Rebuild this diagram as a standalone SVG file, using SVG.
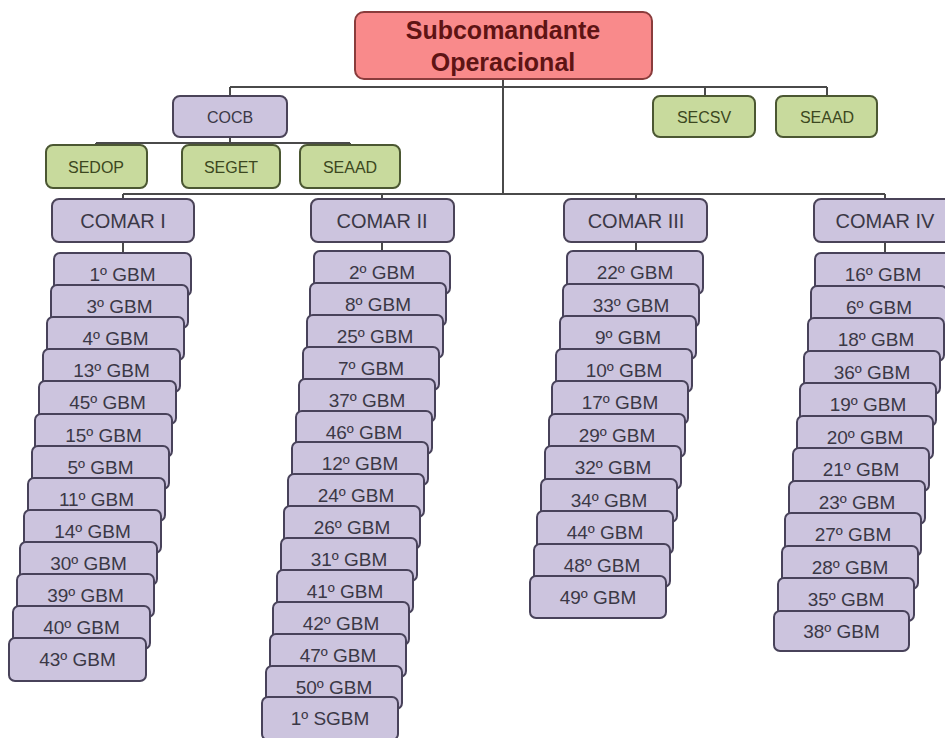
<svg xmlns="http://www.w3.org/2000/svg" width="945" height="738" viewBox="0 0 945 738">
  <style>
    .bg { fill: #ffffff; }
    .wire { fill: none; stroke: #4a4a4a; stroke-width: 2; }
    .top rect { fill: #f98a8b; stroke: #8a3c3c; stroke-width: 2; }
    .top text { font-family: "Liberation Sans", Arial, sans-serif; font-weight: bold; font-size: 25px; fill: #5e1414; text-anchor: middle; }
    .sec rect { fill: #c8da9d; stroke: #4b5732; stroke-width: 2; }
    .sec text { font-family: "Liberation Sans", Arial, sans-serif; font-size: 16px; fill: #3c4720; text-anchor: middle; }
    .cmd rect { fill: #ccc4de; stroke: #4a4358; stroke-width: 2; }
    .cmd text { font-family: "Liberation Sans", Arial, sans-serif; font-size: 16px; fill: #3b3846; text-anchor: middle; }
    .comar text { font-size: 20px; }
    .gbm rect { fill: #ccc4de; stroke: #48425a; stroke-width: 2; }
    .gbm text { font-family: "Liberation Sans", Arial, sans-serif; font-size: 19px; fill: #3b3846; text-anchor: middle; }
  </style>

  <rect class="bg" x="0" y="0" width="945" height="738"/>

  <!-- connectors -->
  <g id="connectors" class="wire">
    <path d="M503 80 V194"/>
    <path d="M230 87 H827"/>
    <path d="M230 87 V96 M705 87 V96 M827 87 V96"/>
    <path d="M230 137 V143 M96 143 H350 M96 143 V145 M231 143 V145 M350 143 V145"/>
    <path d="M123 194 H885"/>
    <path d="M123 194 V199 M382 194 V199 M636 194 V199 M885 194 V199"/>
    <path d="M123 242 V253 M382 242 V251 M636 242 V251 M885 242 V253"/>
  </g>

  <!-- top command -->
  <g id="subcomandante" class="top">
    <rect x="355" y="12" width="297" height="67" rx="9"/>
    <text x="503" y="39">Subcomandante</text>
    <text x="503" y="71">Operacional</text>
  </g>

  <!-- staff sections -->
  <g id="cocb" class="cmd">
    <rect x="173" y="96" width="114" height="41" rx="7"/>
    <text x="230" y="123">COCB</text>
  </g>
  <g id="secsv" class="sec">
    <rect x="653" y="96" width="102" height="41" rx="7"/>
    <text x="704" y="123">SECSV</text>
  </g>
  <g id="seaad-top" class="sec">
    <rect x="776" y="96" width="101" height="41" rx="7"/>
    <text x="827" y="123">SEAAD</text>
  </g>
  <g id="sedop" class="sec">
    <rect x="46" y="145" width="101" height="43" rx="7"/>
    <text x="96" y="173">SEDOP</text>
  </g>
  <g id="seget" class="sec">
    <rect x="182" y="145" width="98" height="43" rx="7"/>
    <text x="231" y="173">SEGET</text>
  </g>
  <g id="seaad-cocb" class="sec">
    <rect x="300" y="145" width="100" height="43" rx="7"/>
    <text x="350" y="173">SEAAD</text>
  </g>

  <!-- regional commands -->
  <g id="comar-1" class="cmd comar">
    <rect x="52" y="199" width="142" height="43" rx="7"/>
    <text x="123" y="228">COMAR I</text>
  </g>
  <g id="comar-2" class="cmd comar">
    <rect x="311" y="199" width="143" height="43" rx="7"/>
    <text x="382" y="228">COMAR II</text>
  </g>
  <g id="comar-3" class="cmd comar">
    <rect x="564" y="199" width="143" height="43" rx="7"/>
    <text x="636" y="228">COMAR III</text>
  </g>
  <g id="comar-4" class="cmd comar">
    <rect x="814" y="199" width="143" height="43" rx="7"/>
    <text x="885" y="228">COMAR IV</text>
  </g>

  <!-- COMAR I battalions -->
  <g id="comar-1-units" class="gbm">
    <g id="gbm-1"><rect x="54" y="253" width="137" height="43" rx="6"/><text x="122.5" y="281">1º GBM</text></g>
    <g id="gbm-3"><rect x="51" y="285" width="137" height="43" rx="6"/><text x="119.5" y="313">3º GBM</text></g>
    <g id="gbm-4"><rect x="47" y="317" width="137" height="43" rx="6"/><text x="115.5" y="345">4º GBM</text></g>
    <g id="gbm-13"><rect x="43" y="349" width="137" height="43" rx="6"/><text x="111.5" y="377">13º GBM</text></g>
    <g id="gbm-45"><rect x="39" y="381" width="137" height="43" rx="6"/><text x="107.5" y="409">45º GBM</text></g>
    <g id="gbm-15"><rect x="35" y="414" width="137" height="43" rx="6"/><text x="103.5" y="442">15º GBM</text></g>
    <g id="gbm-5"><rect x="32" y="446" width="137" height="43" rx="6"/><text x="100.5" y="474">5º GBM</text></g>
    <g id="gbm-11"><rect x="28" y="478" width="137" height="43" rx="6"/><text x="96.5" y="506">11º GBM</text></g>
    <g id="gbm-14"><rect x="24" y="510" width="137" height="43" rx="6"/><text x="92.5" y="538">14º GBM</text></g>
    <g id="gbm-30"><rect x="20" y="542" width="137" height="43" rx="6"/><text x="88.5" y="570">30º GBM</text></g>
    <g id="gbm-39"><rect x="17" y="574" width="137" height="43" rx="6"/><text x="85.5" y="602">39º GBM</text></g>
    <g id="gbm-40"><rect x="13" y="606" width="137" height="43" rx="6"/><text x="81.5" y="634">40º GBM</text></g>
    <g id="gbm-43"><rect x="9" y="638" width="137" height="43" rx="6"/><text x="77.5" y="666">43º GBM</text></g>
  </g>

  <!-- COMAR II battalions -->
  <g id="comar-2-units" class="gbm">
    <g id="gbm-2"><rect x="314" y="251" width="136" height="43" rx="6"/><text x="382" y="279">2º GBM</text></g>
    <g id="gbm-8"><rect x="310" y="283" width="136" height="43" rx="6"/><text x="378" y="311">8º GBM</text></g>
    <g id="gbm-25"><rect x="307" y="315" width="136" height="43" rx="6"/><text x="375" y="343">25º GBM</text></g>
    <g id="gbm-7"><rect x="303" y="347" width="136" height="43" rx="6"/><text x="371" y="375">7º GBM</text></g>
    <g id="gbm-37"><rect x="299" y="379" width="136" height="43" rx="6"/><text x="367" y="407">37º GBM</text></g>
    <g id="gbm-46"><rect x="296" y="411" width="136" height="43" rx="6"/><text x="364" y="439">46º GBM</text></g>
    <g id="gbm-12"><rect x="292" y="442" width="136" height="43" rx="6"/><text x="360" y="470">12º GBM</text></g>
    <g id="gbm-24"><rect x="288" y="474" width="136" height="43" rx="6"/><text x="356" y="502">24º GBM</text></g>
    <g id="gbm-26"><rect x="284" y="506" width="136" height="43" rx="6"/><text x="352" y="534">26º GBM</text></g>
    <g id="gbm-31"><rect x="281" y="538" width="136" height="43" rx="6"/><text x="349" y="566">31º GBM</text></g>
    <g id="gbm-41"><rect x="277" y="570" width="136" height="43" rx="6"/><text x="345" y="598">41º GBM</text></g>
    <g id="gbm-42"><rect x="273" y="602" width="136" height="43" rx="6"/><text x="341" y="630">42º GBM</text></g>
    <g id="gbm-47"><rect x="270" y="634" width="136" height="43" rx="6"/><text x="338" y="662">47º GBM</text></g>
    <g id="gbm-50"><rect x="266" y="666" width="136" height="43" rx="6"/><text x="334" y="694">50º GBM</text></g>
    <g id="sgbm-1"><rect x="262" y="697" width="136" height="43" rx="6"/><text x="330" y="725">1º SGBM</text></g>
  </g>

  <!-- COMAR III battalions -->
  <g id="comar-3-units" class="gbm">
    <g id="gbm-22"><rect x="567" y="251" width="136" height="43" rx="6"/><text x="635" y="279">22º GBM</text></g>
    <g id="gbm-33"><rect x="563" y="284" width="136" height="43" rx="6"/><text x="631" y="312">33º GBM</text></g>
    <g id="gbm-9"><rect x="560" y="316" width="136" height="43" rx="6"/><text x="628" y="344">9º GBM</text></g>
    <g id="gbm-10"><rect x="556" y="349" width="136" height="43" rx="6"/><text x="624" y="377">10º GBM</text></g>
    <g id="gbm-17"><rect x="552" y="381" width="136" height="43" rx="6"/><text x="620" y="409">17º GBM</text></g>
    <g id="gbm-29"><rect x="549" y="414" width="136" height="43" rx="6"/><text x="617" y="442">29º GBM</text></g>
    <g id="gbm-32"><rect x="545" y="446" width="136" height="43" rx="6"/><text x="613" y="474">32º GBM</text></g>
    <g id="gbm-34"><rect x="541" y="479" width="136" height="43" rx="6"/><text x="609" y="507">34º GBM</text></g>
    <g id="gbm-44"><rect x="537" y="511" width="136" height="43" rx="6"/><text x="605" y="539">44º GBM</text></g>
    <g id="gbm-48"><rect x="534" y="544" width="136" height="43" rx="6"/><text x="602" y="572">48º GBM</text></g>
    <g id="gbm-49"><rect x="530" y="576" width="136" height="42" rx="6"/><text x="598" y="604">49º GBM</text></g>
  </g>

  <!-- COMAR IV battalions -->
  <g id="comar-4-units" class="gbm">
    <g id="gbm-16"><rect x="815" y="253" width="136" height="43" rx="6"/><text x="883" y="281">16º GBM</text></g>
    <g id="gbm-6"><rect x="811" y="286" width="136" height="43" rx="6"/><text x="879" y="314">6º GBM</text></g>
    <g id="gbm-18"><rect x="808" y="318" width="136" height="43" rx="6"/><text x="876" y="346">18º GBM</text></g>
    <g id="gbm-36"><rect x="804" y="351" width="136" height="43" rx="6"/><text x="872" y="379">36º GBM</text></g>
    <g id="gbm-19"><rect x="800" y="383" width="136" height="43" rx="6"/><text x="868" y="411">19º GBM</text></g>
    <g id="gbm-20"><rect x="797" y="416" width="136" height="43" rx="6"/><text x="865" y="444">20º GBM</text></g>
    <g id="gbm-21"><rect x="793" y="448" width="136" height="43" rx="6"/><text x="861" y="476">21º GBM</text></g>
    <g id="gbm-23"><rect x="789" y="481" width="136" height="43" rx="6"/><text x="857" y="509">23º GBM</text></g>
    <g id="gbm-27"><rect x="785" y="513" width="136" height="43" rx="6"/><text x="853" y="541">27º GBM</text></g>
    <g id="gbm-28"><rect x="782" y="546" width="136" height="43" rx="6"/><text x="850" y="574">28º GBM</text></g>
    <g id="gbm-35"><rect x="778" y="578" width="136" height="43" rx="6"/><text x="846" y="606">35º GBM</text></g>
    <g id="gbm-38"><rect x="774" y="611" width="135" height="40" rx="6"/><text x="841.5" y="638">38º GBM</text></g>
  </g>
</svg>
